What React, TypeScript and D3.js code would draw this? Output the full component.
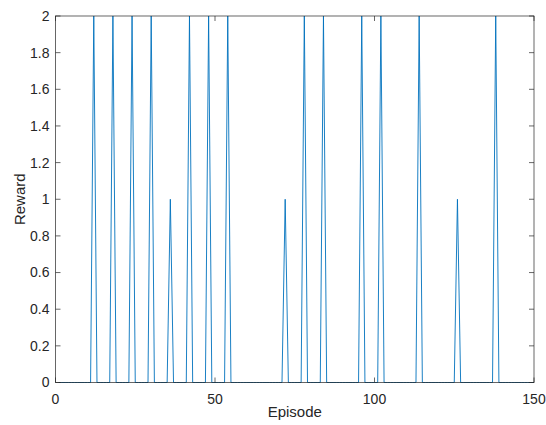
import React, { useEffect, useRef } from 'react'
import * as d3 from 'd3'

// episodes with a non-zero reward, everything else is 0
const spikeEpisodes = [12, 18, 24, 30, 36, 42, 48, 54, 72, 78, 84, 96, 102, 114, 126, 138]
const spikeRewards = [2, 2, 2, 2, 1, 2, 2, 2, 1, 2, 2, 2, 2, 2, 1, 2]
const episodeCount = 150
const yTicks = [0, 0.2, 0.4, 0.6, 0.8, 1, 1.2, 1.4, 1.6, 1.8, 2]
const xTicks = [0, 50, 100, 150]

const App = () => {
    const ref = useRef<SVGSVGElement>(null)

    useEffect(() => {
        const width = 546,
            height = 425
        const left = 55.5, right = 534, top = 16, bottom = 382.5
        const font = '"Liberation Sans", Arial, sans-serif'
        const axisColor = '#262626'

        const svg = d3.select(ref.current)
        svg.selectAll('*').remove()
        svg.attr('width', width).attr('height', height)

        const x = d3.scaleLinear().domain([0, 150]).range([left, right])
        const y = d3.scaleLinear().domain([0, 2]).range([bottom, top])

        const lookup = new Map(spikeEpisodes.map((e, i) => [e, spikeRewards[i]]))
        const data = d3.range(1, episodeCount + 1).map(e => ({ ep: e, r: lookup.get(e) ?? 0 }))

        svg.append('rect')
            .attr('width', width).attr('height', height).attr('fill', 'white')

        const line = d3.line<{ ep: number; r: number }>()
            .x(d => x(d.ep))
            .y(d => y(d.r))

        svg.append('path')
            .datum(data)
            .attr('d', line)
            .attr('fill', 'none')
            .attr('stroke', '#0072BD')
            .attr('stroke-width', 0.9)

        // box
        svg.append('rect')
            .attr('x', left).attr('y', top)
            .attr('width', right - left).attr('height', bottom - top)
            .attr('fill', 'none')
            .attr('stroke', axisColor)
            .attr('stroke-width', 0.7)

        const tl = 5
        // x ticks (inward, mirrored on top)
        const gx = svg.append('g')
        xTicks.forEach(t => {
            gx.append('line').attr('x1', x(t)).attr('x2', x(t)).attr('y1', bottom).attr('y2', bottom - tl)
                .attr('stroke', axisColor).attr('stroke-width', 0.7)
            gx.append('line').attr('x1', x(t)).attr('x2', x(t)).attr('y1', top).attr('y2', top + tl)
                .attr('stroke', axisColor).attr('stroke-width', 0.7)
            gx.append('text').attr('x', x(t)).attr('y', bottom + 21)
                .attr('text-anchor', 'middle')
                .attr('font-family', font).attr('font-size', 14).attr('fill', axisColor)
                .text(t)
        })

        const gy = svg.append('g')
        yTicks.forEach(t => {
            gy.append('line').attr('x1', left).attr('x2', left + tl).attr('y1', y(t)).attr('y2', y(t))
                .attr('stroke', axisColor).attr('stroke-width', 0.7)
            gy.append('line').attr('x1', right).attr('x2', right - tl).attr('y1', y(t)).attr('y2', y(t))
                .attr('stroke', axisColor).attr('stroke-width', 0.7)
            gy.append('text').attr('x', left - 6).attr('y', y(t)).attr('dy', '0.35em')
                .attr('text-anchor', 'end')
                .attr('font-family', font).attr('font-size', 14).attr('fill', axisColor)
                .text(d3.format('~g')(t))
        })

        svg.append('text')
            .attr('x', (left + right) / 2).attr('y', 417)
            .attr('text-anchor', 'middle')
            .attr('font-family', font).attr('font-size', 15).attr('fill', axisColor)
            .text('Episode')

        svg.append('text')
            .attr('transform', `translate(25,${(top + bottom) / 2}) rotate(-90)`)
            .attr('text-anchor', 'middle')
            .attr('font-family', font).attr('font-size', 15).attr('fill', axisColor)
            .text('Reward')
    }, [])

    return (
        <svg ref={ref} style={{ position: 'absolute', left: 0, top: 0 }} />
    )
}

export default App
